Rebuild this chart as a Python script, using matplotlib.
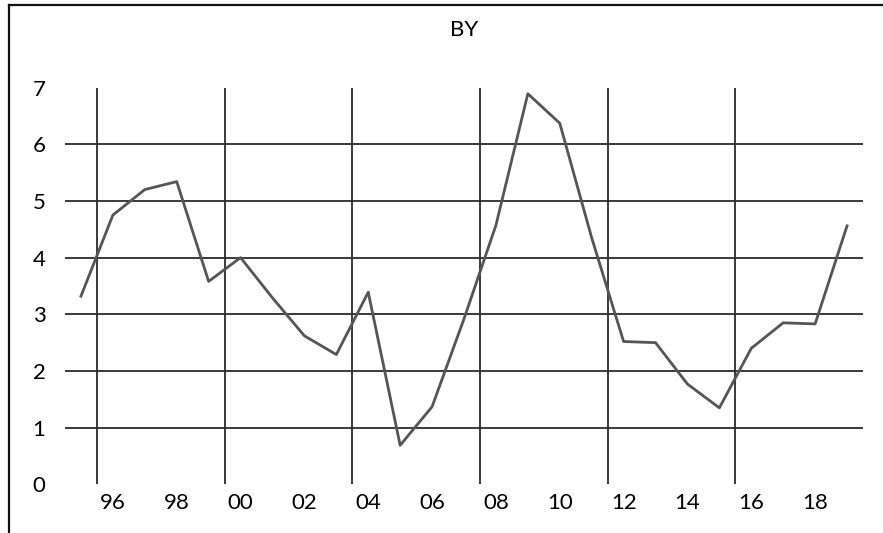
"""
BY series, 1995-2019
"""

###############################################################################
# Libraries
import matplotlib
matplotlib.use("Agg")
import matplotlib.pyplot as plt
from matplotlib.lines import Line2D

####################################
# Data
years = list(range(1995, 2020))
values = [3.32, 4.75, 5.20, 5.34, 3.58, 4.00, 3.29, 2.62, 2.29, 3.39,
          0.69, 1.37, 2.92, 4.57, 6.89, 6.37, 4.35, 2.52, 2.50, 1.77,
          1.35, 2.40, 2.85, 2.83, 4.56]

xtick_years = list(range(1996, 2019, 2))
xtick_labels = ["96", "98", "00", "02", "04", "06", "08", "10", "12", "14", "16", "18"]
ytick_vals = [0, 1, 2, 3, 4, 5, 6, 7]
hgrid = [1, 2, 3, 4, 5, 6]
vgrid = [1995.5, 1999.5, 2003.5, 2007.5, 2011.5, 2015.5]
title = "BY"

####################################
# Style
plt.rcParams['font.family'] = ['Lato', 'DejaVu Sans']
grid_col = '#2b2b2b'
line_col = '#555555'
fs = 16

####################################
# Figure
fig = plt.figure(figsize=(8.83, 5.33), dpi=100)
ax = fig.add_axes([65/883, 1 - 484.4/533, (863 - 65)/883, (484.4 - 87.5)/533])

for y in hgrid:
    ax.axhline(y, color=grid_col, lw=1.3, zorder=1)
for x in vgrid:
    ax.axvline(x, color=grid_col, lw=1.3, zorder=1)

ax.plot(years, values, color=line_col, lw=2.0, zorder=3)

ax.set_xlim(1994.5, 2019.5)
ax.set_ylim(0, 7)
ax.set_xticks(xtick_years)
ax.set_xticklabels(xtick_labels, fontsize=fs)
ax.set_yticks(ytick_vals)
ax.set_yticklabels([str(v) for v in ytick_vals], fontsize=fs)
ax.tick_params(axis='both', length=0)
ax.tick_params(axis='x', pad=6)
ax.tick_params(axis='y', pad=14)
for s in ax.spines.values():
    s.set_visible(False)

fig.text(464/883, 1 - 30/533, title, ha='center', va='center', fontsize=fs)

####################################
# Outer frame (top and left only)
fig.add_artist(Line2D([9/883, 1], [1 - 5/533, 1 - 5/533], color='#111111', lw=1.6,
                      transform=fig.transFigure))
fig.add_artist(Line2D([9/883, 9/883], [0, 1 - 5/533], color='#111111', lw=1.6,
                      transform=fig.transFigure))

fig.savefig('out.png', dpi=100)
